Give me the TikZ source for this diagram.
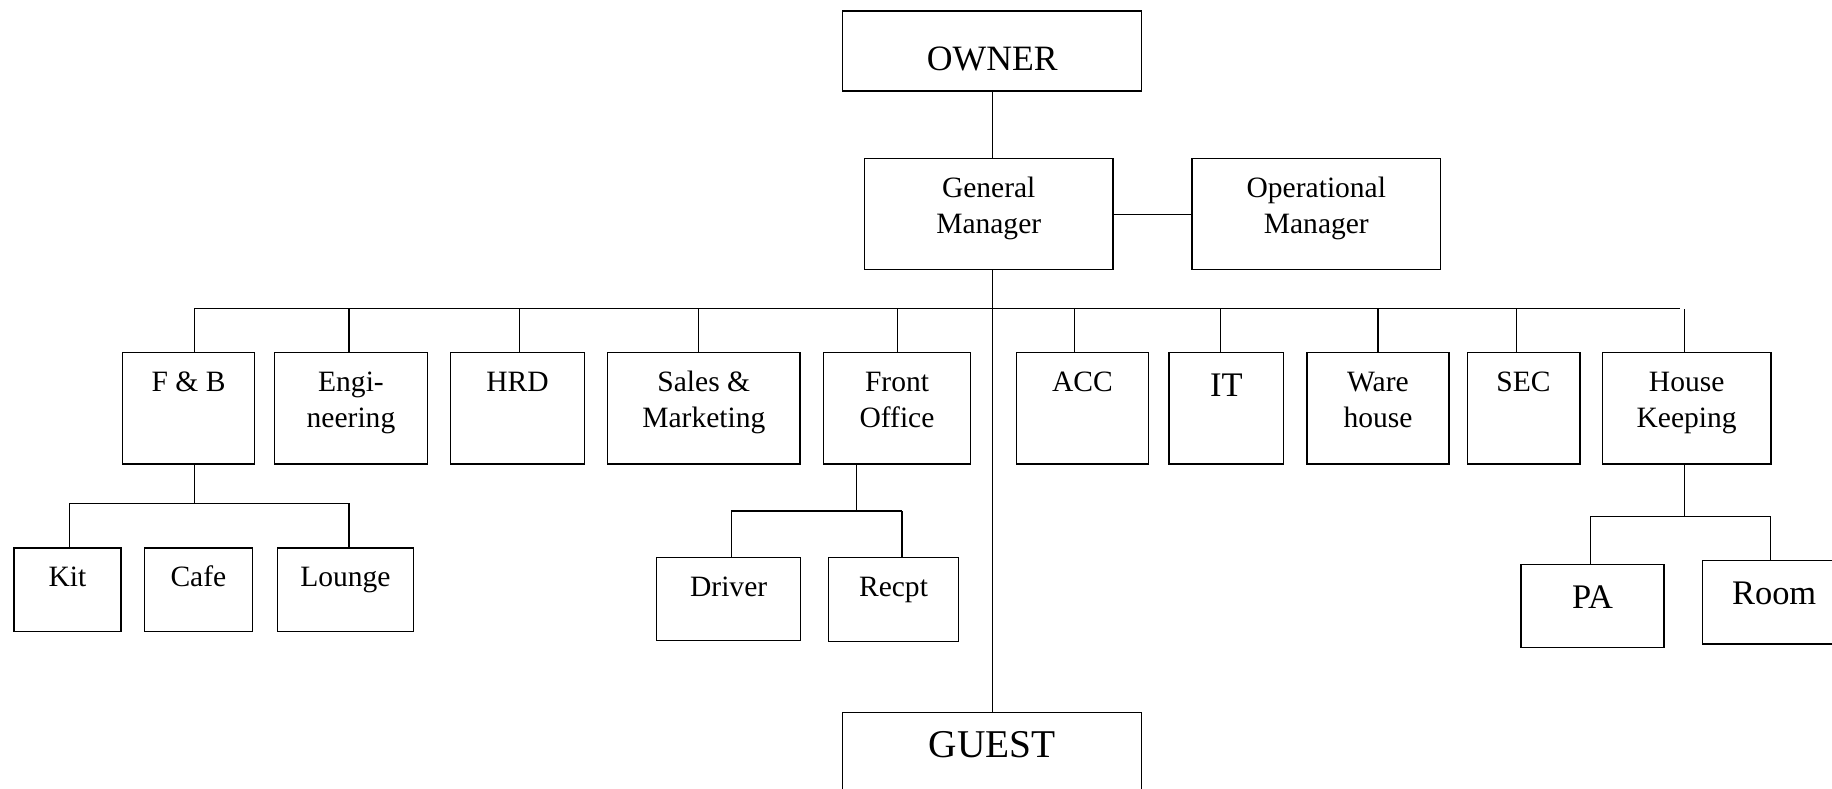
\documentclass[tikz,border=0pt]{standalone}
\usepackage{fontspec}
\setmainfont{Liberation Serif}
\usepackage{tikz}

\begin{document}
\begin{tikzpicture}[line width=0.5pt,
    unit/.style n args={3}{draw, anchor=north west, inner sep=0pt,
      execute at begin node={\begin{minipage}[t][#2][t]{#1}\centering\rule{0pt}{#3}},
      execute at end node={\end{minipage}}},
    small/.style={font=\fontsize{12}{14.5}\selectfont},
    big/.style={font=\fontsize{14}{17}\selectfont}]
			\useasboundingbox (0,0) rectangle (26.17,-11.26);
			% top
			\node[unit={4.27cm}{1.14cm}{24.1pt}, font=\fontsize{14.5}{17}\selectfont] (owner) at (12.03,-0.15) {OWNER};
			\node[unit={3.55cm}{1.58cm}{15.8pt}, small] (gm) at (12.34,-2.26) {General\\Manager};
			\node[unit={3.55cm}{1.58cm}{15.8pt}, small] (om) at (17.02,-2.26) {Operational\\Manager};
			% departments
			\node[unit={1.89cm}{1.59cm}{15.8pt}, small] (fb) at (1.74,-5.03) {F \& B};
			\node[unit={2.19cm}{1.59cm}{15.8pt}, small] (eng) at (3.91,-5.03) {Engi-\\neering};
			\node[unit={1.91cm}{1.59cm}{15.8pt}, small] (hrd) at (6.43,-5.03) {HRD};
			\node[unit={2.75cm}{1.59cm}{15.8pt}, small] (sales) at (8.67,-5.03) {Sales \&\\Marketing};
			\node[unit={2.11cm}{1.59cm}{15.8pt}, small] (fo) at (11.75,-5.03) {Front\\Office};
			\node[unit={1.89cm}{1.59cm}{15.8pt}, small] (acc) at (14.51,-5.03) {ACC};
			\node[unit={1.64cm}{1.59cm}{17.9pt}, big] (it) at (16.69,-5.03) {IT};
			\node[unit={2.03cm}{1.59cm}{15.8pt}, small] (ware) at (18.66,-5.03) {Ware\\house};
			\node[unit={1.61cm}{1.59cm}{15.8pt}, small] (sec) at (20.95,-5.03) {SEC};
			\node[unit={2.41cm}{1.59cm}{15.8pt}, small] (hk) at (22.88,-5.03) {House\\Keeping};
			% sections
			\node[unit={1.53cm}{1.19cm}{15.8pt}, small] (kit) at (0.19,-7.82) {Kit};
			\node[unit={1.55cm}{1.19cm}{15.8pt}, small] (cafe) at (2.05,-7.82) {Cafe};
			\node[unit={1.95cm}{1.19cm}{15.8pt}, small] (lounge) at (3.95,-7.82) {Lounge};
			\node[unit={2.06cm}{1.19cm}{15.8pt}, small] (driver) at (9.37,-7.95) {Driver};
			\node[unit={1.85cm}{1.20cm}{15.8pt}, small] (recpt) at (11.83,-7.96) {Recpt};
			\node[unit={2.04cm}{1.19cm}{17.9pt}, big] (pa) at (21.72,-8.05) {PA};
			\node[unit={2.05cm}{1.19cm}{17.9pt}, big] (room) at (24.31,-8.0) {Room};
			\node[unit={4.27cm}{1.60cm}{18.3pt}, font=\fontsize{16}{19}\selectfont] (guest) at (12.03,-10.17) {GUEST};
			% lines
			\draw (owner.south) -- (owner.south |- gm.north);
			\draw (gm.east) -- (om.west);
			\draw (guest.north |- gm.south) -- (guest.north);
			\coordinate (bus) at (0,-4.41);
			\draw ([xshift=0.08cm]fb.north |- bus) -- ([xshift=-0.09cm]hk.north |- bus);
			\foreach \n/\dx in {fb/0.08,eng/-0.03,hrd/0.03,sales/-0.08,fo/0.01,acc/-0.11,it/-0.08,ware/0,sec/-0.10}
				\draw ([xshift=\dx cm]\n.north |- bus) -- ([xshift=\dx cm]\n.north);
			\draw ([xshift=-0.03cm,yshift=-0.01cm]hk.north |- bus) -- ([xshift=-0.03cm]hk.north);
			\coordinate (fbbus) at (0,-7.19);
			\draw ([xshift=0.08cm]fb.south) -- ([xshift=0.08cm]fb.south |- fbbus);
			\draw ([xshift=0.03cm]kit.north |- fbbus) -- ([xshift=0.05cm]lounge.north |- fbbus);
			\foreach \n/\dx in {kit/0.03,lounge/0.05}
				\draw ([xshift=\dx cm]\n.north |- fbbus) -- ([xshift=\dx cm]\n.north);
			\coordinate (fobus) at (0,-7.30);
			\coordinate (fodrop) at ([xshift=-0.58cm]fo.south);
			\draw (fodrop) -- (fodrop |- fobus);
			\draw ([xshift=0.04cm]driver.north |- fobus) -- ([xshift=0.12cm]recpt.north |- fobus);
			\foreach \n/\dx in {driver/0.04,recpt/0.12}
				\draw ([xshift=\dx cm]\n.north |- fobus) -- ([xshift=\dx cm]\n.north);
			\coordinate (hkbus) at (0,-7.38);
			\draw ([xshift=-0.03cm]hk.south) -- ([xshift=-0.03cm]hk.south |- hkbus);
			\draw ([xshift=-0.03cm]pa.north |- hkbus) -- ([xshift=-0.05cm]room.north |- hkbus);
			\foreach \n/\dx in {pa/-0.03,room/-0.05}
				\draw ([xshift=\dx cm]\n.north |- hkbus) -- ([xshift=\dx cm]\n.north);
		\end{tikzpicture}
\end{document}
